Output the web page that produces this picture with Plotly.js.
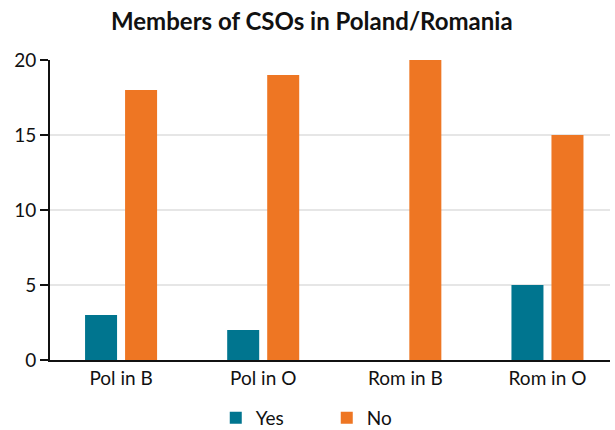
<!DOCTYPE html>
<html><head><meta charset="utf-8">
<script src="https://cdn.plot.ly/plotly-3.0.1.min.js"></script>
<style>html,body{margin:0;padding:0;background:#fff}#c{width:615px;height:430px}</style>
</head><body><div id="c"></div>
<script>
const categories = ["Pol in B", "Pol in O", "Rom in B", "Rom in O"];
const yesValues = [3, 2, 0, 5];
const noValues = [18, 19, 20, 15];
const seriesNames = ["Yes", "No"];
const yTicks = [0, 5, 10, 15, 20];

const font = "Lato, 'Open Sans', sans-serif";
const data = [
  {type: "bar", name: seriesNames[0], x: categories, y: yesValues, marker: {color: "#00758f"}},
  {type: "bar", name: seriesNames[1], x: categories, y: noValues, marker: {color: "#ee7623"}}
];
const layout = {
  width: 615, height: 430,
  margin: {l: 50, r: 5, t: 60, b: 70, autoexpand: false},
  paper_bgcolor: "#fff", plot_bgcolor: "#fff",
  font: {family: font, size: 19, color: "#111"},
  title: {text: "<b>Members of CSOs in Poland/Romania</b>", font: {family: font, size: 24, color: "#111"}, x: 0.507, xanchor: "center", y: 0.95, yanchor: "middle"},
  barmode: "group", bargap: 0.437, bargroupgap: 0.2,
  xaxis: {range: [-0.5, 3.44], automargin: false, showline: true, linecolor: "#111", linewidth: 2, ticks: "", showgrid: false, tickfont: {size: 19}},
  yaxis: {range: [0, 20], automargin: false, tickvals: yTicks, showline: true, linecolor: "#111", linewidth: 2, ticks: "outside", ticklen: 8, tickwidth: 2, tickcolor: "#111", gridcolor: "#e6e6e6", gridwidth: 2, zeroline: false, tickfont: {size: 19}},
  showlegend: true,
  legend: {orientation: "h", x: 0.296, xanchor: "left", yref: "container", y: 0.028, yanchor: "middle", font: {size: 19}, itemwidth: 30, entrywidth: 66, entrywidthmode: "pixels", traceorder: "normal"}
};
Plotly.newPlot("c", data, layout, {displayModeBar: false, staticPlot: true});
</script></body></html>
